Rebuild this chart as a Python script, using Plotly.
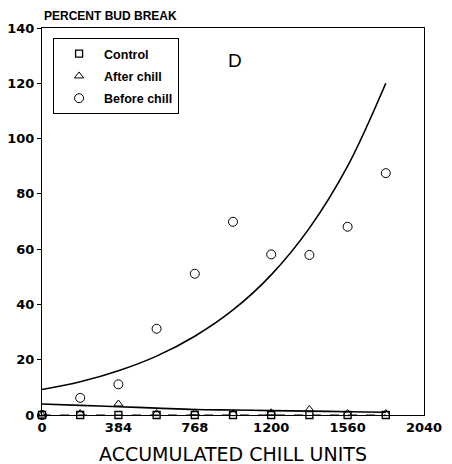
import plotly.graph_objects as go

# Data
chill_units = [0, 192, 384, 576, 768, 960, 1152, 1344, 1536, 1728]
control = [0, 0, 0, 0, 0, 0, 0, 0, 0, 0]
after_chill = [0, 0.5, 4, 0.5, 0.8, 0.5, 0.8, 2, 0.5, 0.5]
before_chill = [0, 6.2, 11.1, 31.2, 51.1, 69.9, 58.1, 57.9, 68.1, 87.5]
before_fit = [9.2, 12.0, 16.0, 21.3, 28.5, 38.0, 50.7, 67.6, 90.0, 120.0]
after_fit = [4.0, 3.5, 3.0, 2.5, 2.0, 1.8, 1.6, 1.4, 1.2, 1.0]
x_tickvals = [0, 384, 768, 1152, 1536, 1920]
x_ticktext = ["0", "384", "768", "1200", "1560", "2040"]
y_tickvals = [0, 20, 40, 60, 80, 100, 120, 140]

LIB = "Liberation Sans, Arial, sans-serif"
DJV = "DejaVu Sans, sans-serif"

fig = go.Figure()
fig.add_trace(go.Scatter(x=chill_units, y=control, mode="lines", showlegend=False,
                         line=dict(color="black", width=1, dash="dash"), cliponaxis=False))
fig.add_trace(go.Scatter(x=chill_units, y=before_fit, mode="lines", showlegend=False,
                         line=dict(color="black", width=1.6, shape="spline")))
fig.add_trace(go.Scatter(x=chill_units, y=after_fit, mode="lines", showlegend=False,
                         line=dict(color="black", width=1.6, shape="spline")))
fig.add_trace(go.Scatter(x=chill_units, y=control, mode="markers", name="Control",
                         legendgroup="a",
                         marker=dict(symbol="square-open", size=7, color="black", line=dict(width=1.3)),
                         cliponaxis=False))
fig.add_trace(go.Scatter(x=chill_units, y=after_chill, mode="markers", name="After chill",
                         legendgroup="b",
                         marker=dict(symbol="triangle-up-open", size=8, color="black", line=dict(width=1)),
                         cliponaxis=False))
fig.add_trace(go.Scatter(x=chill_units, y=before_chill, mode="markers", name="Before chill",
                         legendgroup="c",
                         marker=dict(symbol="circle-open", size=9, color="black", line=dict(width=1)),
                         cliponaxis=False))

fig.update_layout(
    width=444, height=456,
    margin=dict(l=34, r=28, t=20, b=49),
    paper_bgcolor="white", plot_bgcolor="white",
    font=dict(family=LIB, color="black"),
    legend=dict(x=0.029, y=0.974, xanchor="left", yanchor="top",
                bordercolor="black", borderwidth=1, bgcolor="white",
                font=dict(size=12.5, family=LIB, weight="bold"),
                itemwidth=40, entrywidth=100, traceorder="grouped", tracegroupgap=3),
    xaxis=dict(range=[0, 1920], tickvals=x_tickvals, ticktext=x_ticktext,
               showgrid=False, zeroline=False, showline=True, linecolor="black",
               linewidth=1, mirror=True, ticks="", automargin=False,
               tickfont=dict(size=13, weight="bold", family=DJV)),
    yaxis=dict(range=[0, 140], tickvals=y_tickvals,
               showgrid=False, zeroline=False, showline=True, linecolor="black",
               linewidth=1, mirror=True, ticks="outside", ticklen=4, tickcolor="black",
               automargin=False,
               tickfont=dict(size=13, weight="bold", family=DJV)),
    annotations=[
        dict(text="PERCENT BUD BREAK", xref="paper", yref="paper", x=0, y=1.0,
             xanchor="left", yanchor="bottom", yshift=3, showarrow=False,
             font=dict(size=12, weight="bold", family=LIB)),
        dict(text="D", xref="paper", yref="paper", x=0.505, y=0.915,
             xanchor="center", yanchor="middle", showarrow=False,
             font=dict(size=19, family=LIB)),
        dict(text="ACCUMULATED CHILL UNITS", xref="paper", yref="paper", x=0.5, y=-0.1,
             xanchor="center", yanchor="middle", showarrow=False,
             font=dict(size=19, family=DJV)),
    ],
)

fig.write_html("out.html")
